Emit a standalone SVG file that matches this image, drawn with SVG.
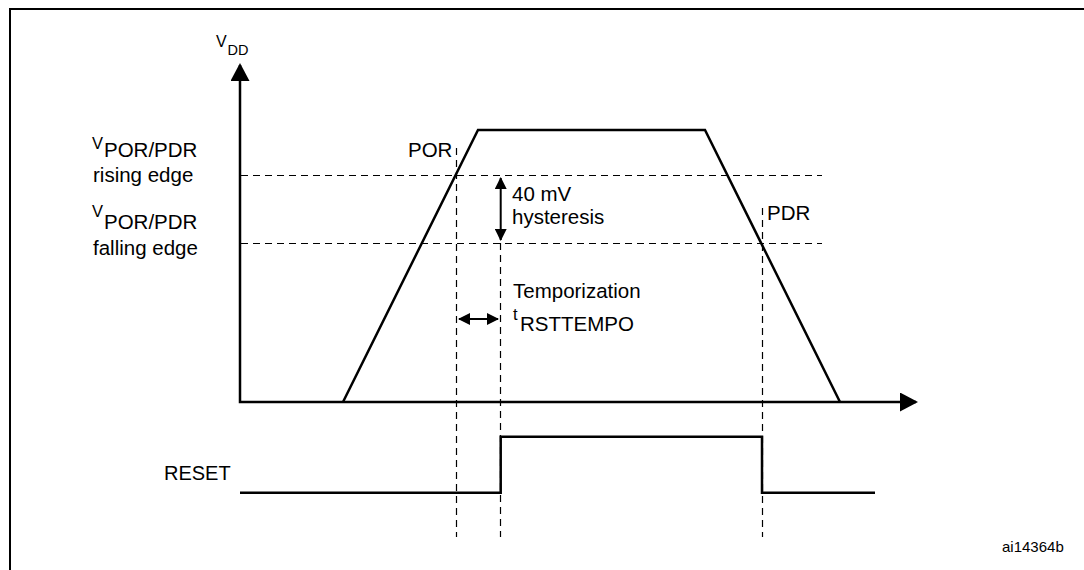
<svg xmlns="http://www.w3.org/2000/svg" width="1084" height="570" viewBox="0 0 1084 570">
  <defs>
    <style>
      .ln {stroke:#000; stroke-width:2.5; fill:none; stroke-linejoin:miter}
      .thin {stroke:#000; stroke-width:2; fill:none}
      .dash {stroke:#000; stroke-width:1.2; fill:none; stroke-dasharray:7 5}
      text {font-family:"Liberation Sans", Arial, Helvetica, sans-serif; fill:#000; font-size:20.5px}
      .sm {font-size:16.5px}
      .id {font-size:15px}
    </style>
    <marker id="big" viewBox="0 0 18 19" refX="16" refY="9.5" markerWidth="18" markerHeight="19" markerUnits="userSpaceOnUse" orient="auto-start-reverse">
      <path d="M0,0 L18,9.5 L0,19 z" fill="#000"/>
    </marker>
    <marker id="ah" viewBox="0 0 12 12" refX="11" refY="6" markerWidth="12" markerHeight="12" markerUnits="userSpaceOnUse" orient="auto-start-reverse">
      <path d="M0,0 L12,6 L0,12 z" fill="#000"/>
    </marker>
  </defs>
  <rect width="1084" height="570" fill="#fff"/>
  <rect id="frame" x="10" y="9" width="1100" height="600" fill="none" stroke="#000" stroke-width="2"/>

  <g id="connectors">
    <!-- threshold dashed lines -->
    <path class="dash" d="M241,175.5 H822"/>
    <path class="dash" d="M241,243.5 H822"/>
    <!-- vertical dashed guides -->
    <path class="dash" d="M456.5,148 V537"/>
    <path class="dash" d="M500.5,243 V537"/>
    <path class="dash" d="M762.5,208 V537"/>
    <!-- hysteresis arrow -->
    <path class="thin" d="M500.7,178 V240" marker-start="url(#ah)" marker-end="url(#ah)"/>
    <!-- temporization arrow -->
    <path class="thin" d="M459,319 H498" marker-start="url(#ah)" marker-end="url(#ah)"/>
  </g>

  <g id="axes">
    <path class="ln" d="M240,65 V402 H916" marker-start="url(#big)" marker-end="url(#big)"/>
  </g>

  <g id="vdd-waveform">
    <path class="ln" d="M343,402 L478,130 H705 L840,402"/>
  </g>

  <g id="reset-waveform">
    <path class="ln" d="M240,492.7 H500.7 V436.7 H762 V492.7 H875"/>
  </g>

  <g id="label-vdd">
    <text x="216" y="47" style="font-size:16px">V</text>
    <text x="227.5" y="55" style="font-size:14.5px">DD</text>
  </g>

  <g id="label-rising">
    <text x="92" y="149" class="sm">V</text>
    <text x="104" y="157">POR/PDR</text>
    <text x="93" y="182">rising edge</text>
  </g>

  <g id="label-falling">
    <text x="92" y="217" class="sm">V</text>
    <text x="104" y="229">POR/PDR</text>
    <text x="93" y="255">falling edge</text>
  </g>

  <g id="label-por">
    <text x="408" y="157">POR</text>
  </g>

  <g id="label-hysteresis">
    <text x="512" y="201">40 mV</text>
    <text x="512" y="224">hysteresis</text>
  </g>

  <g id="label-pdr">
    <text x="767" y="220">PDR</text>
  </g>

  <g id="label-temporization">
    <text x="513" y="298">Temporization</text>
    <text x="513" y="320" class="sm">t</text>
    <text x="520" y="331">RSTTEMPO</text>
  </g>

  <g id="label-reset">
    <text x="164" y="480" style="font-size:20px">RESET</text>
  </g>

  <g id="label-id">
    <text x="1002" y="552" class="id">ai14364b</text>
  </g>
</svg>
